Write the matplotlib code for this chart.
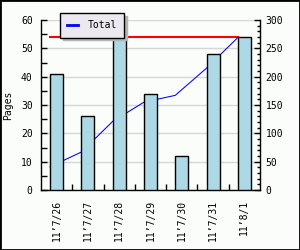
#!/usr/bin/env python3
# plot.py - daily pages bar chart with running total line

import numpy as np
import matplotlib
matplotlib.use('Agg')
import matplotlib.pyplot as plt
from matplotlib.patches import Rectangle
from matplotlib.lines import Line2D
from matplotlib.ticker import MultipleLocator

# data
dates = ["11\u20197/26", "11\u20197/27", "11\u20197/28", "11\u20197/29",
         "11\u20197/30", "11\u20197/31", "11\u20198/1"]
pages = [41, 26, 54, 34, 12, 48, 54]
total = [41, 67, 121, 155, 167, 215, 269]
target = 270

BG = '#fafdfa'
BAR_W = 0.42

plt.rcParams['font.family'] = ['DejaVu Sans Mono', 'DejaVu Sans']


def main():
    fig = plt.figure(figsize=(3, 2.5), dpi=100, facecolor=BG)
    ax = fig.add_axes([41 / 300, 60 / 250, 219 / 300, 170 / 250])
    ax2 = ax.twinx()

    # bars sit above the line axis
    ax.set_zorder(ax2.get_zorder() + 1)
    ax.patch.set_visible(False)
    ax2.set_facecolor(BG)

    x = np.arange(len(dates))
    x_line = x - BAR_W / 2

    ax2.plot(x_line, [target] * len(x), color='#ff0000', lw=1.5, zorder=2)
    ax2.plot(x_line, total, color='#0000ff', lw=0.75, zorder=3)
    ax.bar(x, pages, width=BAR_W, color='#add8e6', edgecolor='black',
           linewidth=1.0, zorder=3)

    ax.set_xlim(-0.5, len(dates) - 0.5)
    ax.set_ylim(0, 60)
    ax2.set_ylim(0, 300)

    # grid on the lower axis
    ax2.yaxis.set_major_locator(MultipleLocator(50))
    ax2.yaxis.set_minor_locator(MultipleLocator(10))
    ax2.grid(axis='y', which='major', color='#d6d6d6', lw=1.0)
    ax2.set_axisbelow(True)

    ax.yaxis.set_major_locator(MultipleLocator(10))
    ax.yaxis.set_minor_locator(MultipleLocator(5))

    ax.set_xticks(x)
    ax.set_xticklabels(dates, rotation=90, fontsize=7)
    ax.set_xticks(x[:-1] + 0.5, minor=True)
    ax.tick_params(axis='x', which='major', length=0, pad=7)
    ax.tick_params(axis='x', which='minor', direction='in', length=4, width=1)
    ax.tick_params(axis='y', which='major', direction='in', length=4,
                   width=1, labelsize=7, pad=6)
    ax.tick_params(axis='y', which='minor', direction='in', length=4, width=1)
    ax2.tick_params(axis='y', which='major', direction='in', length=4,
                    width=1, labelsize=7, pad=4)
    ax2.tick_params(axis='y', which='minor', direction='in', length=2, width=1)

    for s in ['top', 'right']:
        ax.spines[s].set_visible(False)
    for s in ['top', 'left', 'bottom']:
        ax2.spines[s].set_visible(False)
    ax.spines['left'].set_linewidth(1.0)
    ax.spines['bottom'].set_linewidth(1.0)
    ax2.spines['right'].set_linewidth(1.0)

    ax.set_ylabel('Pages', fontsize=7)
    ax.yaxis.set_label_coords(-0.128, 0.5)

    # legend with drop shadow
    handle = Line2D([], [], color='#0000ff', lw=2)
    leg = fig.legend([handle], ['Total'], loc='upper left',
                     bbox_to_anchor=(60 / 300, 1 - 13 / 250), fontsize=7,
                     frameon=True, fancybox=False,
                     shadow={'color': '#b4b4b4', 'alpha': 1.0},
                     handlelength=1.1, borderaxespad=0, borderpad=0.75,
                     handletextpad=1.0)
    leg.get_frame().set_edgecolor('black')
    leg.get_frame().set_facecolor('#ebe9ef')
    leg.get_frame().set_linewidth(1.0)

    # outer border of the image
    fig.patches.append(Rectangle((0, 0), 1, 1, transform=fig.transFigure,
                                 fill=False, edgecolor='black', lw=2))

    fig.savefig('out.png', dpi=100, facecolor=BG)
    plt.close(fig)


if __name__ == "__main__":
    main()
